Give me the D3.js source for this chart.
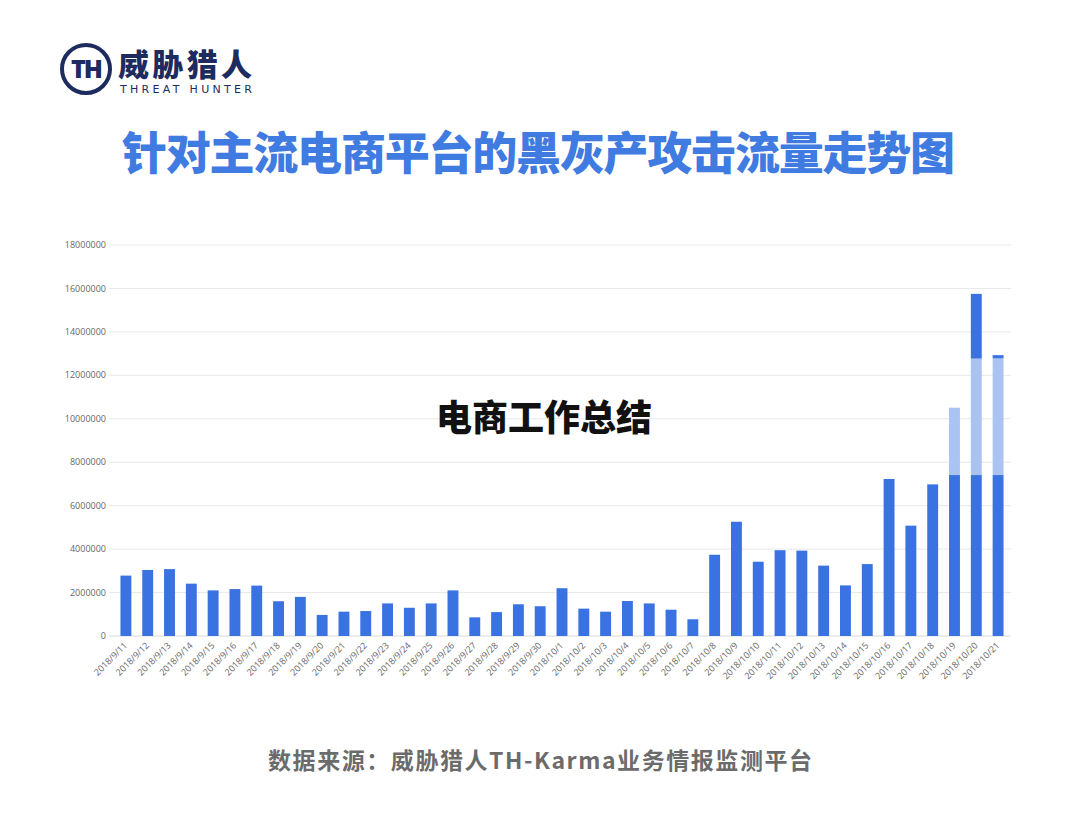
<!DOCTYPE html>
<html>
<head>
<meta charset="utf-8">
<script src="https://cdn.jsdelivr.net/npm/d3@7"></script>
<style>
  html, body { margin: 0; padding: 0; background: #fff; }
  svg { display: block; }
</style>
</head>
<body>
<div id="chart"></div>
<script>
// 日期
const dates = [
  '2018/9/11', '2018/9/12', '2018/9/13', '2018/9/14', '2018/9/15', '2018/9/16', '2018/9/17',
  '2018/9/18', '2018/9/19', '2018/9/20', '2018/9/21', '2018/9/22', '2018/9/23', '2018/9/24',
  '2018/9/25', '2018/9/26', '2018/9/27', '2018/9/28', '2018/9/29', '2018/9/30', '2018/10/1',
  '2018/10/2', '2018/10/3', '2018/10/4', '2018/10/5', '2018/10/6', '2018/10/7', '2018/10/8',
  '2018/10/9', '2018/10/10', '2018/10/11', '2018/10/12', '2018/10/13', '2018/10/14',
  '2018/10/15', '2018/10/16', '2018/10/17', '2018/10/18', '2018/10/19', '2018/10/20', '2018/10/21'
];

// 流量 (base / extra / top)
const baseValues = [
  2780000, 3040000, 3080000, 2410000, 2100000, 2160000, 2320000,
  1600000, 1800000, 970000, 1120000, 1150000, 1500000, 1300000,
  1500000, 2100000, 860000, 1100000, 1460000, 1370000, 2200000,
  1260000, 1120000, 1610000, 1500000, 1210000, 770000, 3740000,
  5260000, 3420000, 3950000, 3930000, 3240000, 2330000,
  3310000, 7230000, 5080000, 6980000, 7410000, 7410000, 7410000
];
const extraValues = [
  0, 0, 0, 0, 0, 0, 0, 0, 0, 0, 0, 0, 0, 0, 0, 0, 0, 0, 0, 0, 0,
  0, 0, 0, 0, 0, 0, 0, 0, 0, 0, 0, 0, 0, 0, 0, 0, 0, 3100000, 5360000, 5370000
];
const topValues = [
  0, 0, 0, 0, 0, 0, 0, 0, 0, 0, 0, 0, 0, 0, 0, 0, 0, 0, 0, 0, 0,
  0, 0, 0, 0, 0, 0, 0, 0, 0, 0, 0, 0, 0, 0, 0, 0, 0, 0, 2980000, 150000
];

const yTicks = [0, 2000000, 4000000, 6000000, 8000000, 10000000, 12000000, 14000000, 16000000, 18000000];

const width = 1080;
const height = 834;
const colors = { base: '#3a72e2', extra: '#aac3f1', top: '#3a72e2' };

const svg = d3.select('#chart')
  .append('svg')
  .attr('width', width)
  .attr('height', height);

// logo
const logo = svg.append('g').attr('class', 'logo');
logo.append('circle')
  .attr('cx', 86).attr('cy', 69).attr('r', 24)
  .attr('fill', 'none')
  .attr('stroke', '#1e2b5e')
  .attr('stroke-width', 4);
logo.append('text')
  .attr('x', 86).attr('y', 78)
  .attr('text-anchor', 'middle')
  .style('font', '900 25px "Noto Sans", sans-serif')
  .style('letter-spacing', '-2px')
  .attr('fill', '#1e2b5e')
  .text('TH');
logo.append('text')
  .attr('x', 118).attr('y', 76)
  .attr('textLength', 134)
  .style('font', '900 31px "Noto Sans CJK SC", sans-serif')
  .attr('fill', '#1e2b5e')
  .text('威胁猎人');
logo.append('text')
  .attr('x', 120).attr('y', 93)
  .attr('textLength', 132)
  .style('font', '500 11px "DejaVu Sans", sans-serif')
  .attr('fill', '#1e2b5e')
  .text('THREAT HUNTER');

// title
svg.append('text')
  .attr('x', 122).attr('y', 170)
  .attr('textLength', 833)
  .style('font', '900 45px "Noto Sans CJK SC", sans-serif')
  .attr('fill', '#3f7be0')
  .text('针对主流电商平台的黑灰产攻击流量走势图');

// chart
const margin = { top: 245, right: 71, bottom: 198, left: 115 };
const plotW = width - margin.left - margin.right;
const plotH = height - margin.top - margin.bottom;

const g = svg.append('g')
  .attr('transform', `translate(${margin.left}, ${margin.top})`);

const x = d3.scaleBand()
  .domain(dates)
  .range([0, plotW])
  .paddingInner(0.5)
  .paddingOuter(0.25);

const y = d3.scaleLinear()
  .domain([0, 18000000])
  .range([plotH, 0]);

// grid
g.append('g')
  .selectAll('line')
  .data(yTicks)
  .join('line')
  .attr('x1', -6).attr('x2', plotW + 2)
  .attr('y1', d => y(d)).attr('y2', d => y(d))
  .attr('stroke', d => d === 0 ? '#d9d9d9' : '#e8e8e8')
  .attr('stroke-width', 1);

// y labels
g.append('g')
  .selectAll('text')
  .data(yTicks)
  .join('text')
  .attr('x', -9)
  .attr('y', d => y(d))
  .attr('dy', '0.35em')
  .attr('text-anchor', 'end')
  .style('font', '9px "Open Sans", sans-serif')
  .attr('fill', '#666')
  .text(d => d);

// stacked bars
const rows = dates.map((d, i) => ({ date: d, base: baseValues[i], extra: extraValues[i], top: topValues[i] }));
const stack = d3.stack().keys(['base', 'extra', 'top'])(rows);

g.append('g')
  .selectAll('g')
  .data(stack)
  .join('g')
  .attr('fill', s => colors[s.key])
  .selectAll('rect')
  .data(s => s.filter(p => p[1] > p[0]))
  .join('rect')
  .attr('x', p => x(p.data.date))
  .attr('y', p => y(p[1]))
  .attr('width', x.bandwidth())
  .attr('height', p => y(p[0]) - y(p[1]));

// x labels
g.append('g')
  .selectAll('text')
  .data(dates)
  .join('text')
  .attr('transform', d => `translate(${x(d) + x.bandwidth() / 2 + 2}, ${plotH + 10}) rotate(-45)`)
  .attr('text-anchor', 'end')
  .style('font', '9px "Open Sans", sans-serif')
  .attr('fill', '#666')
  .text(d => d);

// overlay
svg.append('text')
  .attr('x', 544).attr('y', 431)
  .attr('text-anchor', 'middle')
  .style('font', '900 36px "Noto Sans CJK SC", sans-serif')
  .attr('fill', '#111')
  .text('电商工作总结');

// footer
svg.append('text')
  .attr('x', 268).attr('y', 769)
  .attr('textLength', 544)
  .style('font', '700 23px "Noto Sans CJK SC", serif')
  .attr('fill', '#6b6b6b')
  .text('数据来源：威胁猎人TH-Karma业务情报监测平台');
</script>
</body>
</html>
